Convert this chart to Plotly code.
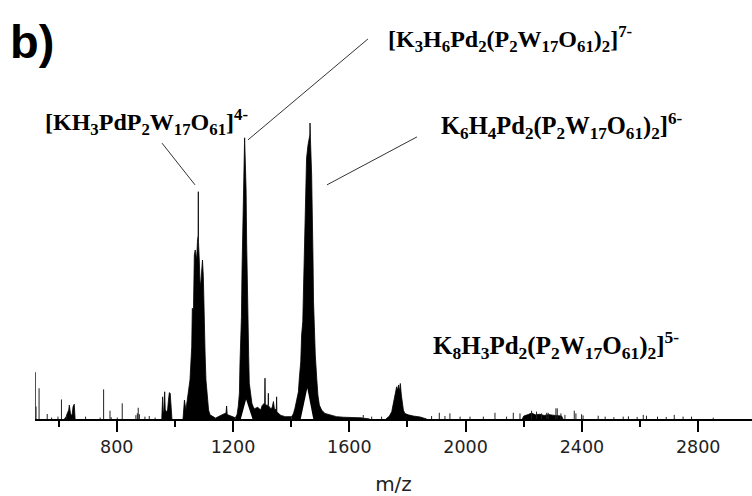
import plotly.graph_objects as go

# ---------------- data (m/z, relative intensity %) ----------------
cluster_640_mz = [620, 626, 630, 635, 637, 641, 646, 650, 654, 657]
cluster_640_int = [0, 0.8, 1.9, 3.0, 4.7, 1.9, 1.0, 4.2, 5.0, 0]

cluster_970_mz = [955, 958, 960, 962, 965, 967, 972, 975, 978, 981, 984, 987, 990]
cluster_970_int = [0, 7.5, 2.0, 2.5, 9.2, 3.0, 2.5, 3.0, 6.4, 8.9, 8.7, 2.0, 0]

peak_1080_mz = [1028, 1033, 1038, 1046, 1052, 1058, 1060, 1064, 1067, 1070, 1075, 1078,
                1080.2, 1080.7, 1081.2, 1084, 1087, 1090, 1095, 1098, 1100, 1104, 1107,
                1112, 1116, 1121, 1132, 1140]
peak_1080_int = [0, 6.4, 3.0, 8.7, 13.2, 24.4, 37.4, 36.8, 55.4, 57.1, 53.7, 60.5,
                 62.0, 76.8, 60.0, 53.7, 44.7, 47.0, 53.7, 48.1, 35.7, 22.2, 13.2,
                 6.4, 3.0, 1.4, 0.6, 0.3]

cluster_1170_mz = [1140, 1150, 1160, 1170, 1176, 1178, 1180, 1190, 1200, 1208]
cluster_1170_int = [0.3, 0.8, 1.5, 1.8, 2.0, 4.4, 1.5, 1.2, 0.8, 0.4]

peak_1240_mz = [1208, 1214, 1218, 1222, 1224, 1226, 1229, 1231, 1233, 1235, 1238,
                1239.5, 1240, 1240.5, 1242, 1245, 1247, 1249, 1252, 1254, 1256, 1261,
                1265, 1270, 1275, 1285, 1295, 1300, 1305, 1309, 1310, 1311, 1318,
                1321, 1321.5, 1322, 1330, 1335, 1339, 1343, 1349, 1350, 1351, 1355,
                1365, 1380, 1395, 1402]
peak_1240_int = [0.4, 1.5, 4.2, 8.7, 18.8, 25.6, 34.6, 50.3, 63.9, 79.6, 90.0,
                 93.0, 95.0, 93.0, 88.0, 77.4, 59.4, 44.7, 31.2, 21.1, 12.1, 7.6,
                 5.3, 4.0, 3.5, 4.0, 3.0, 4.5, 5.0, 5.5, 13.8, 5.0, 4.5,
                 5.0, 8.7, 4.5, 3.5, 4.0, 5.9, 3.0, 3.5, 7.5, 2.5, 2.0,
                 1.2, 0.8, 0.8, 0.8]

peak_1460_mz = [1402, 1408, 1413, 1419, 1425, 1428, 1433, 1436, 1440, 1442, 1444,
                1446, 1449, 1451, 1453, 1458, 1462, 1464.3, 1464.8, 1465.3, 1467,
                1470.5, 1473, 1475, 1477, 1480, 1483, 1488, 1492, 1497, 1505, 1516,
                1534, 1556, 1580, 1610, 1640, 1670]
peak_1460_int = [0.8, 1.9, 3.6, 5.9, 9.2, 13.7, 19.4, 28.4, 32.9, 41.9, 52.0,
                 63.3, 74.6, 80.2, 88.1, 92.6, 95.0, 96.0, 100.0, 96.0, 92.6,
                 82.4, 71.2, 55.4, 39.6, 29.5, 21.6, 13.7, 8.1, 4.7, 3.0, 1.9,
                 1.4, 0.8, 0.6, 0.5, 0.4, 0]

peak_1780_mz = [1726, 1738, 1746, 1751, 1756, 1759, 1762.8, 1766, 1769.7, 1773,
                1775.4, 1779, 1782, 1786, 1791, 1803, 1820, 1843, 1866]
peak_1780_int = [0, 1.0, 2.5, 4.7, 7.0, 8.7, 10.9, 9.8, 11.5, 9.2,
                 12.0, 8.1, 5.3, 3.0, 1.9, 1.4, 1.0, 0.7, 0]

cluster_2250_mz = [2195, 2200, 2215, 2227, 2240, 2255, 2270, 2285, 2300, 2315, 2330, 2335]
cluster_2250_int = [0, 1.0, 1.5, 2.0, 1.4, 1.6, 1.2, 1.5, 1.3, 1.2, 1.0, 0]

# isolated noise sticks
stick_mz = [520, 522.5, 533, 561, 576, 598, 610, 628, 693, 743, 755, 777, 781, 802,
            819, 866, 871, 874, 878, 897, 912, 932,
            1648, 1677, 1711, 1883, 1909.5, 1929, 1946, 1981, 2015, 2061, 2101, 2141,
            2164, 2187, 2227, 2244, 2279, 2261, 2284, 2310.6, 2315.2, 2327.8, 2341.6,
            2373.7, 2379.4, 2398.9, 2404, 2456, 2480, 2510, 2542, 2560, 2590, 2611,
            2622, 2660, 2690, 2717.6, 2748, 2777, 2851.7]
stick_int = [15.8, 4.2, 10.4, 1.7, 0.5, 0.8, 6.6, 1.3, 0.8, 0.5, 10.0, 2.8, 0.6, 0.5,
             5.3, 1.3, 1.9, 3.8, 1.6, 0.8, 1.0, 0.5,
             1.35, 0.8, 0.8, 1.0, 2.1, 1.0, 1.9, 0.8, 0.8, 0.8, 2.1, 0.8,
             2.1, 1.9, 2.8, 2.5, 2.1, 1.9, 2.1, 3.6, 3.6, 1.9, 1.4,
             2.8, 1.9, 1.6, 1.2, 1.1, 0.8, 0.6, 0.8, 0.9, 0.7, 1.4,
             1.1, 0.8, 0.7, 1.4, 0.8, 0.8, 0.45]

# white gaps inside the bases of the two largest peaks
gap_1240_mz = [1227, 1245, 1267]
gap_1240_int = [0, 6.6, 0]
gap_1460_mz = [1433, 1455.5, 1476]
gap_1460_int = [0, 10.4, 0]

# annotation labels
label_texts = [
    "[KH<sub>3</sub>PdP<sub>2</sub>W<sub>17</sub>O<sub>61</sub>]<sup>4-</sup>",
    "[K<sub>3</sub>H<sub>6</sub>Pd<sub>2</sub>(P<sub>2</sub>W<sub>17</sub>O<sub>61</sub>)<sub>2</sub>]<sup>7-</sup>",
    "K<sub>6</sub>H<sub>4</sub>Pd<sub>2</sub>(P<sub>2</sub>W<sub>17</sub>O<sub>61</sub>)<sub>2</sub>]<sup>6-</sup>",
    "K<sub>8</sub>H<sub>3</sub>Pd<sub>2</sub>(P<sub>2</sub>W<sub>17</sub>O<sub>61</sub>)<sub>2</sub>]<sup>5-</sup>",
]
label_mz = [545, 1726, 1908, 1880]
label_int = [100.5, 128.5, 99.0, 25.0]
label_size = [24, 24, 24.5, 25]

# leader lines (m/z, intensity)
leader_x0 = [955.8, 1251.5, 1523.2]
leader_y0 = [93.2, 94.3, 79.1]
leader_x1 = [1069.3, 1664.2, 1832.7]
leader_y1 = [79.1, 128.4, 95.3]

tick_vals = [800, 1200, 1600, 2000, 2400, 2800]
tick_text = ["800", "1200", "1600", "2000", "2400", "2800"]
minor_vals = [600, 1000, 1400, 1800, 2200, 2600]

# ---------------- figure ----------------
fig = go.Figure()

envelopes = [
    (cluster_640_mz, cluster_640_int),
    (cluster_970_mz, cluster_970_int),
    (peak_1080_mz, peak_1080_int),
    (cluster_1170_mz, cluster_1170_int),
    (peak_1240_mz, peak_1240_int),
    (peak_1460_mz, peak_1460_int),
    (peak_1780_mz, peak_1780_int),
    (cluster_2250_mz, cluster_2250_int),
]
for mz, it in envelopes:
    fig.add_trace(go.Scatter(x=mz, y=it, mode="lines", fill="tozeroy",
                             fillcolor="black", line=dict(color="black", width=0.8),
                             hoverinfo="skip", showlegend=False))

sx, sy = [], []
for m, h in zip(stick_mz, stick_int):
    sx += [m, m, None]
    sy += [0, h, None]
fig.add_trace(go.Scatter(x=sx, y=sy, mode="lines", line=dict(color="#222", width=1),
                         hoverinfo="skip", showlegend=False))

for mz, it in [(gap_1240_mz, gap_1240_int), (gap_1460_mz, gap_1460_int)]:
    fig.add_trace(go.Scatter(x=mz, y=it, mode="lines", fill="tozeroy",
                             fillcolor="white", line=dict(color="white", width=0),
                             hoverinfo="skip", showlegend=False))

for x0, y0, x1, y1 in zip(leader_x0, leader_y0, leader_x1, leader_y1):
    fig.add_shape(type="line", xref="x", yref="y", x0=x0, y0=y0, x1=x1, y1=y1,
                  line=dict(color="#333", width=1))

for t, x, y, s in zip(label_texts, label_mz, label_int, label_size):
    fig.add_annotation(x=x, y=y, xref="x", yref="y", text="<b>" + t + "</b>",
                       showarrow=False, xanchor="left", yanchor="middle",
                       font=dict(family="Liberation Serif, Times New Roman, serif",
                                 size=s, color="black"))

fig.add_annotation(x=-0.038, y=0.947, xref="paper", yref="paper", text="<b>b)</b>",
                   showarrow=False, xanchor="left", yanchor="middle",
                   font=dict(family="Liberation Sans, Arial, sans-serif", size=47,
                             color="black"))

fig.update_layout(
    width=752, height=496,
    margin=dict(l=35, r=0, t=20, b=77),
    plot_bgcolor="white", paper_bgcolor="white",
    xaxis=dict(range=[519, 2985], tickvals=tick_vals, ticktext=tick_text,
               ticks="outside", ticklen=11, tickwidth=1.5, tickcolor="black",
               showline=True, linecolor="black", linewidth=1.5,
               showgrid=False, zeroline=False,
               tickfont=dict(family="DejaVu Sans, sans-serif", size=17.5,
                             color="#222"),
               minor=dict(tickvals=minor_vals, ticks="outside",
                          ticklen=6, tickwidth=1.5, tickcolor="black", showgrid=False),
               title=dict(text="m/z", standoff=23,
                          font=dict(family="DejaVu Sans, sans-serif",
                                    size=20, color="#222"))),
    yaxis=dict(range=[0, 134.8], visible=False, showgrid=False, zeroline=False),
)

# remove the default page margin so the figure fills the 752x496 window exactly
fig.write_html("out.html",
               config={"displayModeBar": False},
               post_script="document.body.style.margin='0';"
                           "document.body.style.overflow='hidden';")
